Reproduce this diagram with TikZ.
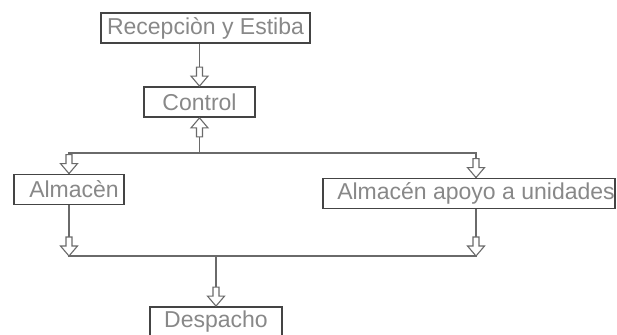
\documentclass[tikz,border=0pt]{standalone}
\usepackage{fontspec}
\setmainfont{Liberation Sans}
\definecolor{boxgray}{HTML}{444444}
\definecolor{linegray}{HTML}{6A6A6A}
\definecolor{txtgray}{HTML}{888888}
\begin{document}
\begin{tikzpicture}[x=1pt,y=-1pt,
  box/.style={draw=boxgray, line width=1.8pt, minimum height=30pt, inner sep=0pt,
    text=txtgray, fill=white, font=\fontsize{23}{26}\selectfont},
  link/.style={draw=linegray, line width=1.1pt},
  hdown/.pic={\draw[linegray, fill=white, line width=1.1pt]
    (0,0) -- (-8.5,-10) -- (-3,-10) -- (-3,-19) -- (3,-19) -- (3,-10) -- (8.5,-10) -- cycle;},
  hup/.pic={\draw[linegray, fill=white, line width=1.1pt]
    (0,0) -- (-8.5,10) -- (-3,10) -- (-3,19) -- (3,19) -- (3,10) -- (8.5,10) -- cycle;}
]
\useasboundingbox[fill=white] (0,0) rectangle (617,334);

% process boxes (labels in the two storage boxes sit a little right of centre)
\node[box, minimum width=209pt] (rec) at (205.5,28) {Recepciòn y Estiba};
\node[box, minimum width=111pt] (ctl) at (199.5,102) {Control};
\node[box, minimum width=110pt] (alm) at (69,189.5) {\hspace{10pt}Almacèn};
\node[box, minimum width=292pt] (apo) at (469,193.5) {\hspace{14pt}Almacén apoyo a unidades};
\node[box, minimum width=132pt] (desp) at (216,322) {Despacho};

% junction points
\coordinate (jl) at (69,153);
\coordinate (jr) at (476,153);
\coordinate (kl) at (69,256);
\coordinate (kr) at (476,256);
\coordinate (km) at (216,256);

% connectors
\draw[link] (ctl.north |- rec.south) -- (ctl.north);
\draw[link] (ctl.south) -- (ctl.south |- jl);
\draw[link] (alm.north) -- (jl) -- (jr) -- (jr |- apo.north);
\draw[link] (alm.south) -- (kl) -- (kr) -- (kr |- apo.south);
\draw[link] (km) -- (desp.north);

% hollow arrowheads
\pic at (ctl.north) {hdown};
\pic at (ctl.south) {hup};
\pic at (alm.north) {hdown};
\pic at (jr |- apo.north) {hdown};
\pic at (kl) {hdown};
\pic at (kr) {hdown};
\pic at (desp.north) {hdown};
\end{tikzpicture}
\end{document}
